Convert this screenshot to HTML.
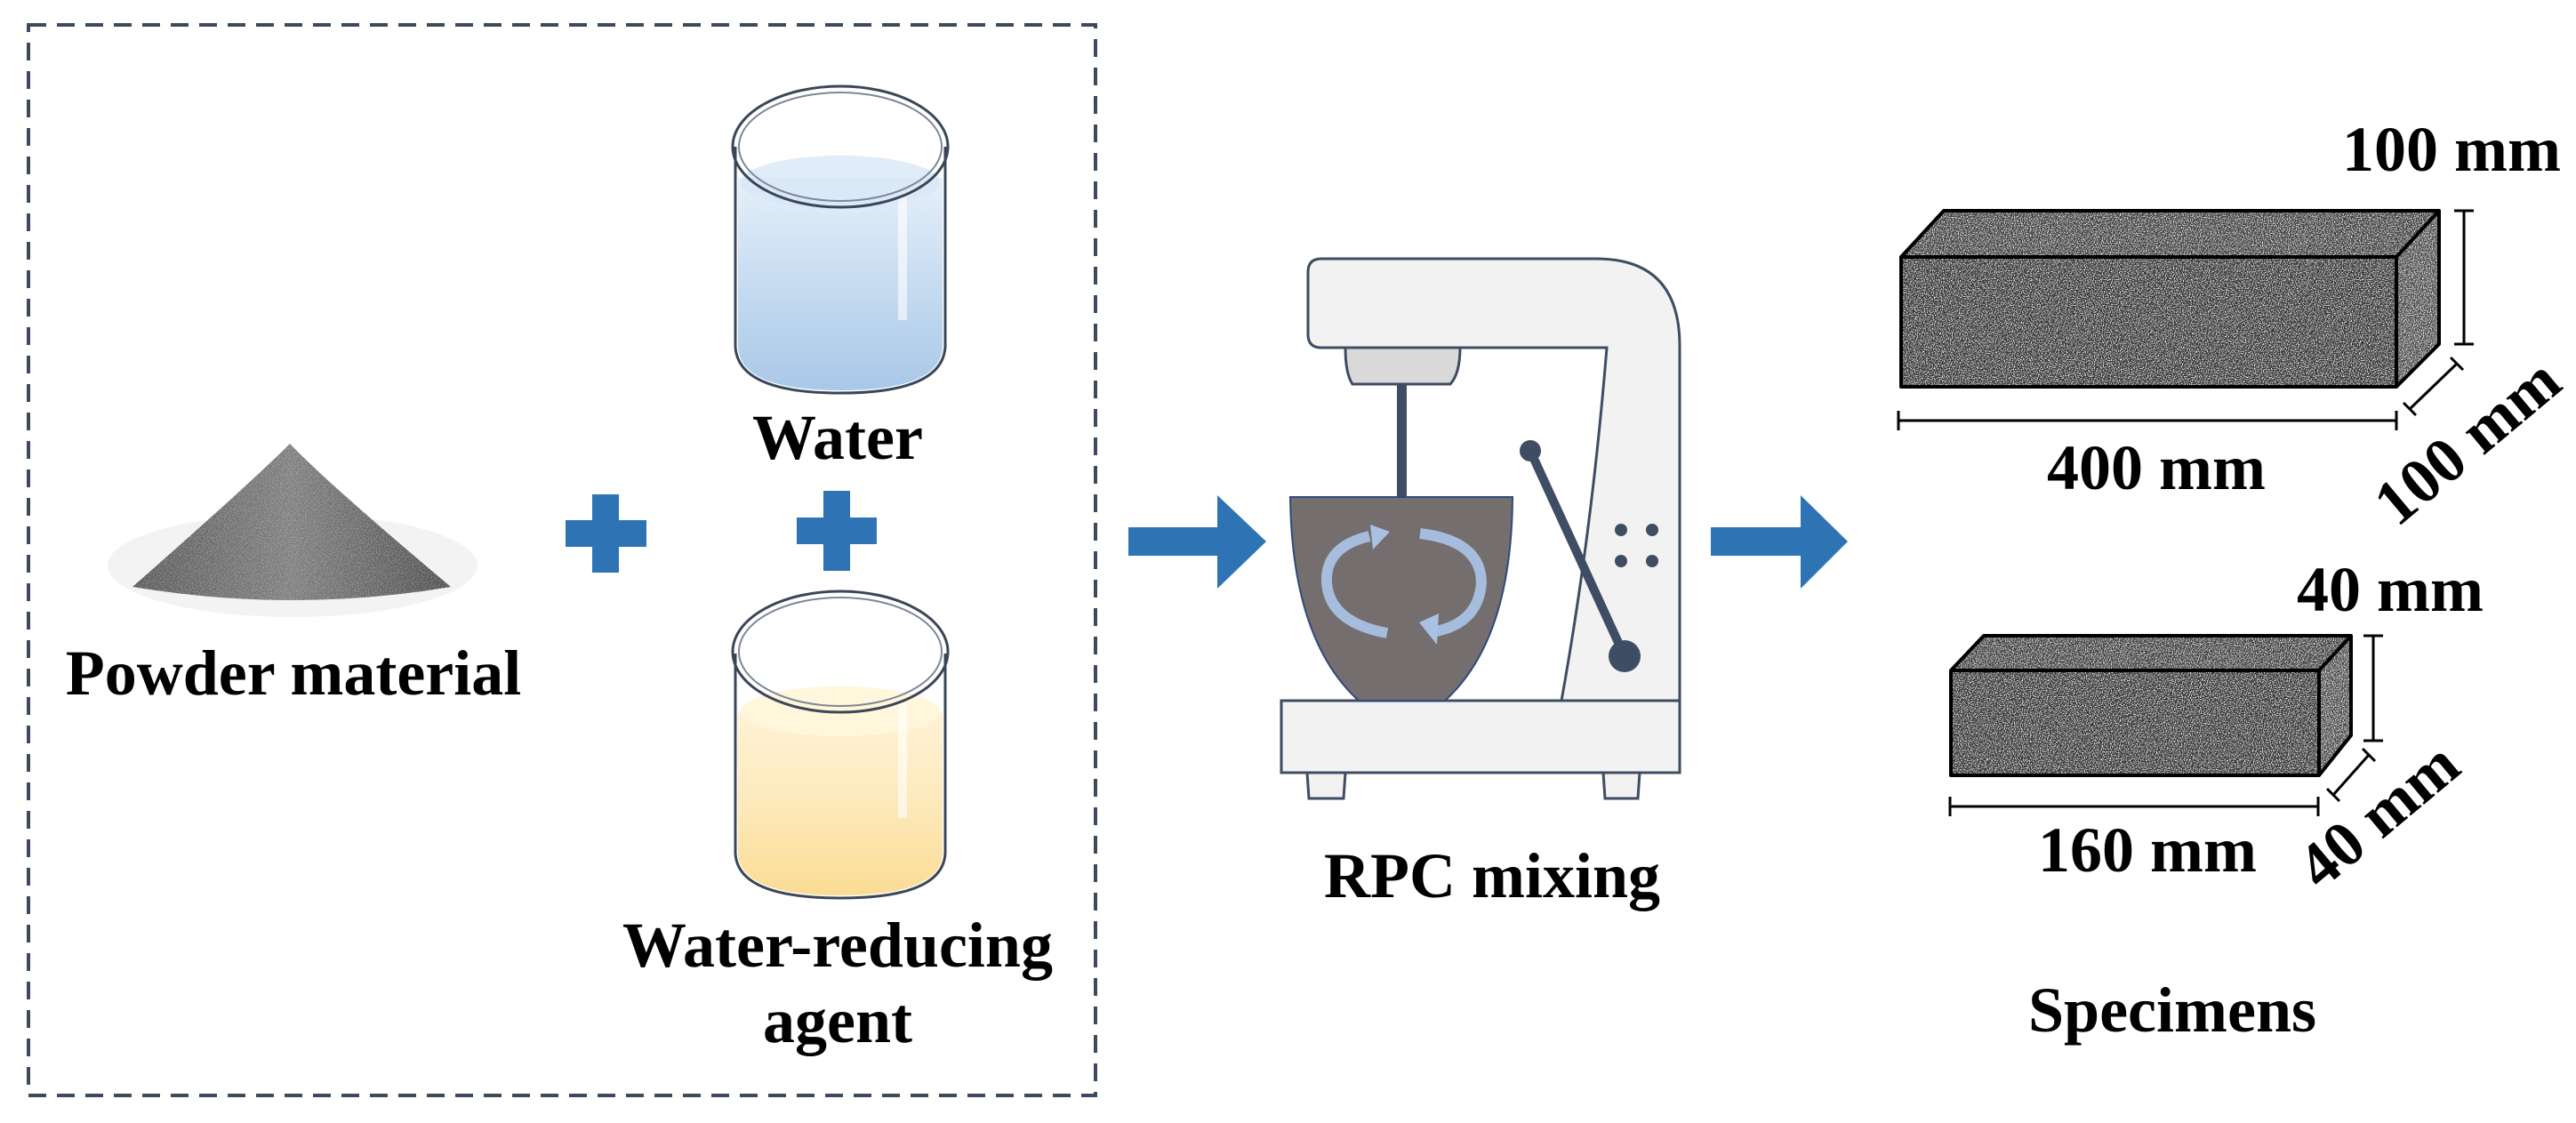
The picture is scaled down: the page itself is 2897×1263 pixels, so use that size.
<!DOCTYPE html>
<html><head><meta charset="utf-8"><style>
html,body{margin:0;padding:0;background:#fff;}
svg{display:block;}
text{font-family:"Liberation Serif",serif;font-weight:bold;fill:#000;}
</style></head><body>
<svg width="2897" height="1263" viewBox="0 0 2897 1263" xmlns="http://www.w3.org/2000/svg">
<defs>
<filter id="speck" x="0" y="0" width="100%" height="100%">
<feTurbulence type="fractalNoise" baseFrequency="0.9" numOctaves="2" seed="3" result="n"/>
<feColorMatrix in="n" type="matrix" values="0 0 0 0 1  0 0 0 0 1  0 0 0 0 1  5 0 0 0 -2.4" result="s"/>
<feComposite in="s" in2="SourceGraphic" operator="in"/>
</filter>
<filter id="speck2" x="0" y="0" width="100%" height="100%">
<feTurbulence type="fractalNoise" baseFrequency="0.8" numOctaves="2" seed="7" result="n"/>
<feColorMatrix in="n" type="matrix" values="0 0 0 0 0.9  0 0 0 0 0.9  0 0 0 0 0.9  3 0 0 0 -1.2" result="s"/>
<feComposite in="s" in2="SourceGraphic" operator="in"/>
</filter>
<linearGradient id="cone" x1="0" y1="0" x2="1" y2="0">
<stop offset="0" stop-color="#5a5a5a"/><stop offset="0.5" stop-color="#7e7e7e"/><stop offset="1" stop-color="#505050"/>
</linearGradient>
<linearGradient id="wat" x1="0" y1="0" x2="0" y2="1">
<stop offset="0" stop-color="#e6f0fa"/><stop offset="0.5" stop-color="#c7dcf1"/><stop offset="1" stop-color="#a9c8e8"/>
</linearGradient>
<linearGradient id="yel" x1="0" y1="0" x2="0" y2="1">
<stop offset="0" stop-color="#fff3d6"/><stop offset="0.5" stop-color="#fde9bb"/><stop offset="1" stop-color="#fbdc94"/>
</linearGradient>
</defs>

<rect x="32" y="28" width="1200" height="1204" fill="none" stroke="#3e4a5c" stroke-width="4" stroke-dasharray="20 12"/>

<ellipse cx="329" cy="636" rx="208" ry="58" fill="#f3f3f3"/>
<ellipse cx="329" cy="636" rx="208" ry="58" fill="#000" filter="url(#speck2)" opacity="0.2"/>
<path d="M326 499 Q280 545 149 660 Q330 690 507 660 Q370 545 326 499 Z" fill="url(#cone)"/>
<path d="M326 499 Q280 545 149 660 Q330 690 507 660 Q370 545 326 499 Z" fill="#000" filter="url(#speck)" opacity="0.35"/>
<text x="330" y="781" font-size="72" text-anchor="middle">Powder material</text>

<g fill="#2e74b5">
<rect x="636" y="585" width="91" height="30"/><rect x="666" y="556" width="30" height="88"/>
<rect x="896" y="582" width="90" height="30"/><rect x="926" y="552" width="30" height="90"/>
</g>

<path d="M830 200 L830 390 Q832 439 945 439 Q1058 439 1060 390 L1060 200 Z" fill="url(#wat)"/>
<ellipse cx="945" cy="205" rx="112" ry="30" fill="#d8e7f6" opacity="0.8"/>
<rect x="1010" y="220" width="10" height="140" fill="#fff" opacity="0.6"/>
<path d="M827 165 L827 390 Q830 442 945 442 Q1060 442 1063 390 L1063 165" fill="none" stroke="#3b4658" stroke-width="3"/>
<ellipse cx="945" cy="165" rx="121" ry="68" fill="none" stroke="#3b4658" stroke-width="3"/>
<ellipse cx="945" cy="165" rx="114" ry="61" fill="none" stroke="#7d8797" stroke-width="2"/>
<text x="942" y="516" font-size="72" text-anchor="middle">Water</text>

<path d="M830 800 L830 960 Q832 1007 945 1007 Q1058 1007 1060 960 L1060 800 Z" fill="url(#yel)"/>
<ellipse cx="945" cy="800" rx="112" ry="28" fill="#fff6dc"/>
<rect x="1010" y="790" width="10" height="130" fill="#fff" opacity="0.6"/>
<path d="M827 735 L827 960 Q830 1010 945 1010 Q1060 1010 1063 960 L1063 735" fill="none" stroke="#3b4658" stroke-width="3"/>
<ellipse cx="945" cy="733" rx="121" ry="68" fill="none" stroke="#3b4658" stroke-width="3"/>
<ellipse cx="945" cy="733" rx="114" ry="61" fill="none" stroke="#7d8797" stroke-width="2"/>
<text x="942" y="1087" font-size="72" text-anchor="middle">Water-reducing</text>
<text x="942" y="1172" font-size="72" text-anchor="middle">agent</text>

<g fill="#2e74b5">
<polygon points="1269,593 1369,593 1369,557 1424,609 1369,662 1369,625 1269,625"/>
<polygon points="1924,593 2025,593 2025,557 2078,609 2025,662 2025,625 1924,625"/>
</g>

<g stroke="#3e4d63" stroke-width="3">
<path d="M1486 291 L1795 291 Q1889 291 1889 389 L1889 788 L1756 788 Q1790 600 1807 391 L1486 391 Q1471 391 1471 376 L1471 306 Q1471 291 1486 291 Z" fill="#f2f2f2"/>
<path d="M1513 391 L1642 391 Q1642 420 1631 432 L1521 432 Q1513 420 1513 391 Z" fill="#d9d9d9"/>
<rect x="1441" y="788" width="448" height="81" fill="#f2f2f2"/>
<path d="M1470 869 L1513 869 L1511 898 L1472 898 Z" fill="#f2f2f2"/>
<path d="M1803 869 L1844 869 L1842 898 L1805 898 Z" fill="#f2f2f2"/>
</g>
<rect x="1571" y="432" width="11" height="128" fill="#3e4d63"/>
<path d="M1451 559 L1701 559 Q1700 720 1625 788 L1528 788 Q1453 720 1451 559 Z" fill="#756e6e" stroke="#2f4a7a" stroke-width="2"/>
<line x1="1721" y1="507" x2="1827" y2="738" stroke="#3e4d63" stroke-width="10" stroke-linecap="round"/>
<circle cx="1721" cy="507" r="12" fill="#3e4d63"/>
<circle cx="1827" cy="738" r="18" fill="#3e4d63"/>
<g fill="#3e4d63"><circle cx="1823" cy="596" r="7"/><circle cx="1858" cy="596" r="7"/><circle cx="1823" cy="631" r="7"/><circle cx="1858" cy="631" r="7"/></g>
<g fill="none" stroke="#a9c1e3" stroke-width="12" opacity="0.95">
<path d="M1540 603 Q1490 615 1492 655 Q1495 700 1560 712"/>
<path d="M1597 600 Q1665 608 1666 655 Q1663 700 1615 710"/>
</g>
<polygon points="1541,590 1563,598 1544,618" fill="#a9c1e3"/>
<polygon points="1596,700 1616,725 1618,690" fill="#a9c1e3"/>
<text x="1678" y="1009" font-size="72" text-anchor="middle">RPC mixing</text>

<polygon points="2138,289 2186,237 2743,237 2695,289" fill="#3d3d3d"/>
<polygon points="2695,289 2743,237 2743,387 2695,435" fill="#4a4a4a"/>
<rect x="2138" y="289" width="557" height="146" fill="#333"/>
<g filter="url(#speck)"><polygon points="2138,289 2186,237 2743,237 2743,387 2695,435 2138,435" fill="#000"/></g>
<g fill="none" stroke="#000" stroke-width="4" stroke-linejoin="round">
<polygon points="2138,289 2186,237 2743,237 2743,387 2695,435 2138,435"/>
<polyline points="2138,289 2695,289 2743,237"/><line x1="2695" y1="289" x2="2695" y2="435"/>
</g>
<g stroke="#000" stroke-width="3">
<line x1="2771" y1="237" x2="2771" y2="387"/><line x1="2760" y1="237" x2="2782" y2="237"/><line x1="2760" y1="387" x2="2782" y2="387"/>
<line x1="2135" y1="473" x2="2695" y2="473"/><line x1="2135" y1="462" x2="2135" y2="484"/><line x1="2695" y1="462" x2="2695" y2="484"/>
<line x1="2710" y1="460" x2="2763" y2="409"/><line x1="2703" y1="453" x2="2717" y2="467"/><line x1="2756" y1="402" x2="2770" y2="416"/>
</g>
<text x="2757" y="192" font-size="72" text-anchor="middle">100 mm</text>
<text x="2425" y="550" font-size="72" text-anchor="middle">400 mm</text>
<text x="0" y="0" font-size="72" text-anchor="middle" transform="translate(2790,515) rotate(-40)">100 mm</text>

<polygon points="2194,754 2231,715 2644,715 2608,754" fill="#3d3d3d"/>
<rect x="2194" y="754" width="414" height="118" fill="#333"/>
<polygon points="2608,754 2644,715 2644,827 2608,872" fill="#4a4a4a"/>
<g filter="url(#speck)"><polygon points="2194,754 2231,715 2644,715 2644,827 2608,872 2194,872" fill="#000"/></g>
<g fill="none" stroke="#000" stroke-width="4" stroke-linejoin="round">
<polygon points="2194,754 2231,715 2644,715 2644,827 2608,872 2194,872"/>
<polyline points="2194,754 2608,754 2644,715"/><line x1="2608" y1="754" x2="2608" y2="872"/>
</g>
<g stroke="#000" stroke-width="3">
<line x1="2669" y1="715" x2="2669" y2="833"/><line x1="2658" y1="715" x2="2680" y2="715"/><line x1="2658" y1="833" x2="2680" y2="833"/>
<line x1="2193" y1="907" x2="2607" y2="907"/><line x1="2193" y1="896" x2="2193" y2="918"/><line x1="2607" y1="896" x2="2607" y2="918"/>
<line x1="2624" y1="894" x2="2664" y2="849"/><line x1="2617" y1="887" x2="2631" y2="901"/><line x1="2657" y1="842" x2="2671" y2="856"/>
</g>
<text x="2688" y="687" font-size="72" text-anchor="middle">40 mm</text>
<text x="2415" y="980" font-size="72" text-anchor="middle">160 mm</text>
<text x="0" y="0" font-size="72" text-anchor="middle" transform="translate(2690,935) rotate(-40)">40 mm</text>

<text x="2443" y="1160" font-size="72" text-anchor="middle">Specimens</text>
</svg>
</body></html>
